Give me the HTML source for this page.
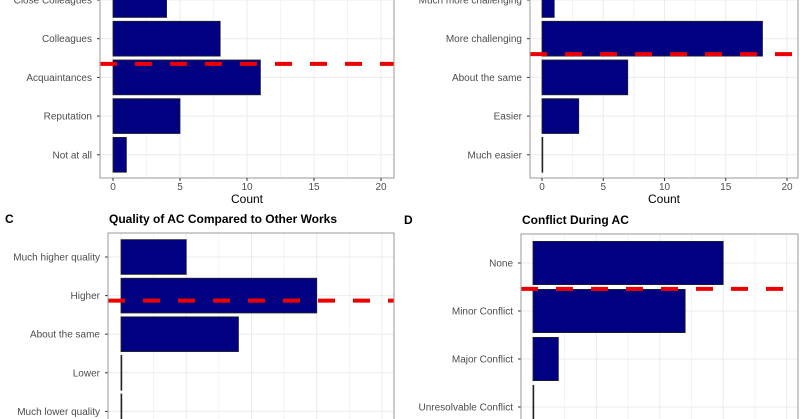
<!DOCTYPE html>
<html><head><meta charset="utf-8"><style>
html,body{margin:0;padding:0;background:#fff;width:800px;height:419px;overflow:hidden}
svg{display:block;overflow:hidden}
text{font-family:"Liberation Sans",sans-serif}
</style></head><body>
<svg id="c" width="800" height="419" viewBox="0 0 800 419" xmlns="http://www.w3.org/2000/svg"></svg>
<script>
const aCats = ["Close Colleagues","Colleagues","Acquaintances","Reputation","Not at all"];
const aVals = [4,8,11,5,1];
const bCats = ["Much more challenging","More challenging","About the same","Easier","Much easier"];
const bVals = [1,18,7,3,0];
const cCats = ["Much higher quality","Higher","About the same","Lower","Much lower quality"];
const cVals = [5,15,9,0,0];
const dCats = ["None","Minor Conflict","Major Conflict","Unresolvable Conflict"];
const dVals = [15,12,2,0];
const xTicks = [0,5,10,15,20];
const refLines = {a:1.65, b:1.4, c:1.13, d:0.54};

const NS="http://www.w3.org/2000/svg";
const svg=document.getElementById('c');
function mk(tag,attrs,parent){const e=document.createElementNS(NS,tag);for(const k in attrs)e.setAttribute(k,attrs[k]);(parent||svg).appendChild(e);return e;}

function panel(key,cats,vals,cfg){
  const g=mk('g',{});
  
  
  const xs=v=>cfg.x0+v*cfg.unit;
  const ys=i=>cfg.yFirst+i*cfg.step;
  const bh=cfg.step*0.9;
  for(let t=0;t<=cfg.maxV;t+=2.5){
    const l=mk('line',{x1:xs(t),x2:xs(t),y1:cfg.top,y2:cfg.bottom,stroke:'#ebebeb','stroke-width':(t%5===0)?1:0.6},g);
    
    
  }
  cats.forEach((c,i)=>{
    const l=mk('line',{x1:cfg.left,x2:cfg.right,y1:ys(i),y2:ys(i),stroke:'#ebebeb','stroke-width':1},g);
    
    
  });
  cats.forEach((c,i)=>{
    const r=mk('rect',{x:xs(0),y:ys(i)-bh/2,width:Math.max(vals[i]*cfg.unit,0.8),height:bh,fill:'#000080',stroke:'#222','stroke-width':0.8},g);
    
    
    const t=mk('text',{x:cfg.left-8,y:ys(i)+3.5,'text-anchor':'end','font-size':10,fill:'#4d4d4d'},g);
    t.textContent=c;
    
    
    const tk=mk('line',{x1:cfg.left-3,x2:cfg.left,y1:ys(i),y2:ys(i),stroke:'#333','stroke-width':1},g);
    
    
  });
  const ry=ys(refLines[key]);
  const rl=mk('line',{x1:cfg.left,x2:cfg.right,y1:ry,y2:ry,stroke:'#ee0000','stroke-width':4,'stroke-dasharray':'17,18'},g);
  
  
  const f=mk('rect',{x:cfg.left,y:cfg.top,width:cfg.right-cfg.left,height:cfg.bottom-cfg.top,fill:'none',stroke:'#999','stroke-width':1},g);
  
  
  if(cfg.xAxis){
    xTicks.forEach(v=>{
      const tk=mk('line',{x1:xs(v),x2:xs(v),y1:cfg.bottom,y2:cfg.bottom+3,stroke:'#333'},g);
      
      
      const t=mk('text',{x:xs(v),y:cfg.bottom+12,'text-anchor':'middle','font-size':10,fill:'#4d4d4d'},g);
      t.textContent=v;
      
      
    });
    const at=mk('text',{x:(cfg.left+cfg.right)/2,y:cfg.bottom+25,'text-anchor':'middle','font-size':12,fill:'#000'},g);
    at.textContent='Count';
    
    
  }
  if(cfg.title){
    const tt=mk('text',{x:cfg.left+1,y:cfg.top-10,'font-size':12,'font-weight':'bold',fill:'#000'},g);
    tt.textContent=cfg.title;
    
    
    const lt=mk('text',{x:cfg.tagX,y:cfg.top-10,'font-size':12,'font-weight':'bold',fill:'#000'},g);
    lt.textContent=cfg.tag;
    
    
  }
}
panel('a',aCats,aVals,{left:100,right:394,top:-5,bottom:178,x0:113,unit:13.4,yFirst:0,step:38.7,maxV:21,xAxis:true});
panel('b',bCats,bVals,{left:530,right:798,top:-5,bottom:178,x0:542,unit:12.25,yFirst:0,step:38.7,maxV:21,xAxis:true});
panel('c',cCats,cVals,{left:108,right:394,top:233,bottom:425,x0:121,unit:13.05,yFirst:257,step:38.6,maxV:21,title:'Quality of AC Compared to Other Works',tag:'C',tagX:5});
panel('d',dCats,dVals,{left:521,right:798,top:234,bottom:425,x0:533,unit:12.68,yFirst:263,step:48,maxV:21,title:'Conflict During AC',tag:'D',tagX:404});
</script>
</body></html>
